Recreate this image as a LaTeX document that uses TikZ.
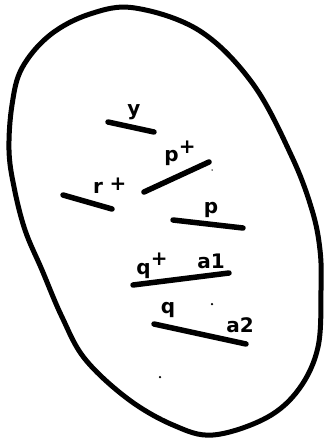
\documentclass[tikz,border=0pt]{standalone}
\usepackage{fontspec}
\setmainfont{DejaVu Sans}
\begin{document}
\begin{tikzpicture}[x=1pt,y=-1pt,
  outline/.style={line width=5pt,line join=round},
  seg/.style={line width=5.5pt,line cap=round},
  lab/.style={inner sep=0pt,font=\bfseries\fontsize{20}{20}\selectfont},
  speck/.style={fill=black,circle,inner sep=0pt,minimum size=2.5pt}]
\useasboundingbox (0,0) rectangle (328,444);
\draw[outline] plot[smooth cycle,tension=0.6] coordinates {
 (135,8) (200,31) (253,84) (292,157) (312,210) (320,250) (321,290)
 (318,347) (299,389) (266,418) (213,435) (173,425) (128,399) (85,359)
 (62,317) (42,270) (25,230) (14,187) (9,150) (12,105) (22,68) (50,35) (90,14)};
% segments
\coordinate (y1) at (108,122); \coordinate (y2) at (154,132);
\coordinate (pp1) at (144,192); \coordinate (pp2) at (209,162);
\coordinate (r1) at (63,195); \coordinate (r2) at (112,209);
\coordinate (p1) at (173,220); \coordinate (p2) at (243,228);
\coordinate (qa1) at (133,285); \coordinate (qa2) at (229,273);
\coordinate (qb1) at (154,324); \coordinate (qb2) at (246,344);
\draw[seg] (y1) -- (y2);
\draw[seg] (pp1) -- (pp2);
\draw[seg] (r1) -- (r2);
\draw[seg] (p1) -- (p2);
\draw[seg] (qa1) -- (qa2);
\draw[seg] (qb1) -- (qb2);
% labels
\node[lab] (ly) at (134,112) {y};
\node[lab] (lpp) at (180,153) {p\raisebox{0.4em}{+}};
\node[lab] (lr) at (98,188) {r};
\node[lab] (lrp) at (118,184) {+};
\node[lab] (lp) at (211,210) {p};
\node[lab] (lq) at (152,266) {q\raisebox{0.45em}{+}};
\node[lab] (la1) at (211,261) {a1};
\node[lab] (lq2) at (168,310) {q};
\node[lab] (la2) at (240,325) {a2};
% specks
\node[speck] (d1) at (212,304) {};
\node[speck] (d2) at (160,377) {};
\node[speck,minimum size=1.5pt] (d3) at (212,170) {};
\end{tikzpicture}
\end{document}
